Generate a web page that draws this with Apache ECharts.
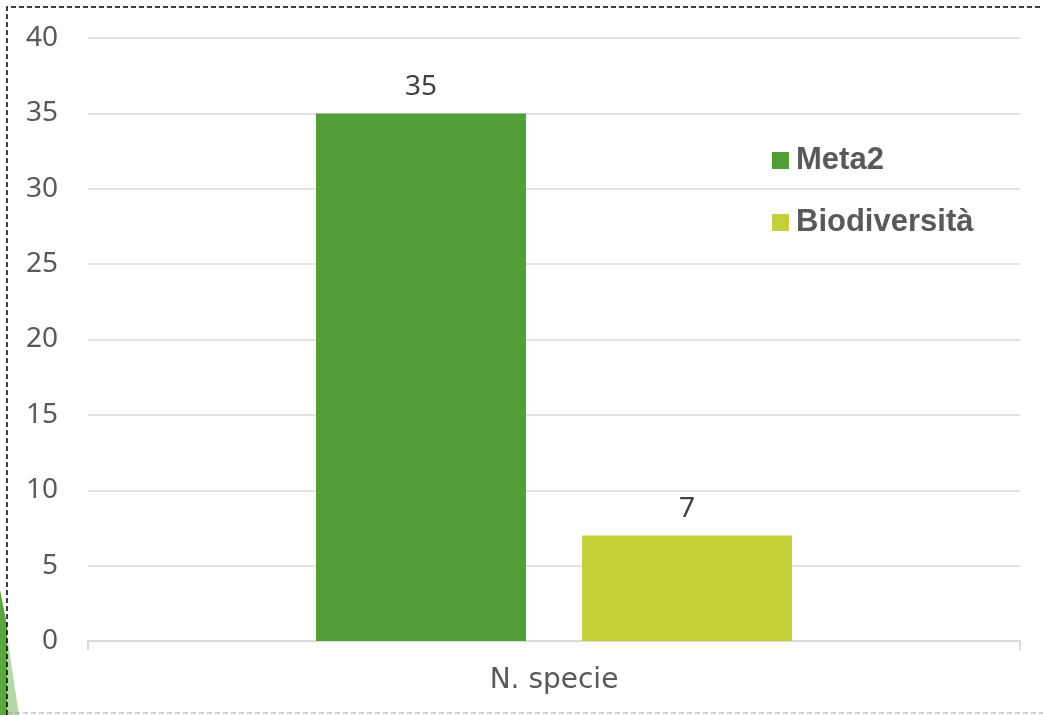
<!DOCTYPE html>
<html>
<head>
<meta charset="utf-8">
<script src="https://cdn.jsdelivr.net/npm/echarts@6/dist/echarts.min.js"></script>
<style>
  html, body { margin: 0; padding: 0; background: #fff; }
  #grafico { width: 1043px; height: 715px; }
</style>
</head>
<body>
<div id="grafico"></div>
<script>
// dati del grafico
var categorie = ['N. specie'];
var serieNomi = ['Meta2', 'Biodiversità'];
var valoriMeta2 = [35];
var valoriBiodiversita = [7];
var colori = ['#529e39', '#c3d03a'];

var chart = echarts.init(document.getElementById('grafico'));

var testoAsse = { color: '#595959', fontSize: 28, fontFamily: 'Noto Sans' };
var etichetta = { show: true, position: 'top', distance: 12, color: '#404040', fontSize: 28, fontFamily: 'Noto Sans' };

chart.setOption({
    animation: false,
    grid: { left: 88, right: 23, top: 38, bottom: 74 },
    legend: {
        orient: 'vertical',
        left: 772,
        top: 145,
        padding: 0,
        itemGap: 31,
        itemWidth: 17,
        itemHeight: 17,
        icon: 'rect',
        data: serieNomi,
        textStyle: { color: '#595959', fontSize: 31, fontWeight: 'bold', fontFamily: 'Liberation Sans', padding: [0, 0, 0, 2] }
    },
    xAxis: {
        type: 'category',
        data: categorie,
        axisLine: { lineStyle: { color: '#d9d9d9', width: 2 } },
        axisTick: { show: true, length: 9, lineStyle: { color: '#d9d9d9', width: 2 } },
        axisLabel: { margin: 26, color: '#595959', fontSize: 28, fontFamily: 'DejaVu Sans' }
    },
    yAxis: {
        type: 'value',
        min: 0,
        max: 40,
        interval: 5,
        axisLine: { show: false },
        axisTick: { show: false },
        axisLabel: Object.assign({ margin: 30 }, testoAsse),
        splitLine: { lineStyle: { color: '#d9d9d9', width: 1.5 } }
    },
    series: [{
        name: serieNomi[0],
        type: 'bar',
        data: valoriMeta2,
        barWidth: 210,
        barGap: '26.7%',
        itemStyle: { color: colori[0] },
        label: etichetta
    }, {
        name: serieNomi[1],
        type: 'bar',
        data: valoriBiodiversita,
        barWidth: 210,
        itemStyle: { color: colori[1] },
        label: etichetta
    }],
    graphic: [
        // decorazione verde in basso a sinistra
        { type: 'polygon', shape: { points: [[0, 590], [19, 715], [0, 715]] }, style: { fill: '#b5d6a7' }, z: 0 },
        { type: 'polygon', shape: { points: [[0, 590], [7, 625], [7, 715], [0, 715]] }, style: { fill: '#5aa63f' }, z: 0 },
        // bordo tratteggiato
        { type: 'polyline', shape: { points: [[7, 715], [7, 7], [1043, 7]] }, style: { stroke: '#000', lineWidth: 1.5, lineDash: [5, 3], fill: null }, z: 10 },
        { type: 'line', shape: { x1: 7, y1: 713, x2: 1043, y2: 713 }, style: { stroke: '#999', lineWidth: 1, lineDash: [5, 3] }, z: 10 }
    ]
});
</script>
</body>
</html>
